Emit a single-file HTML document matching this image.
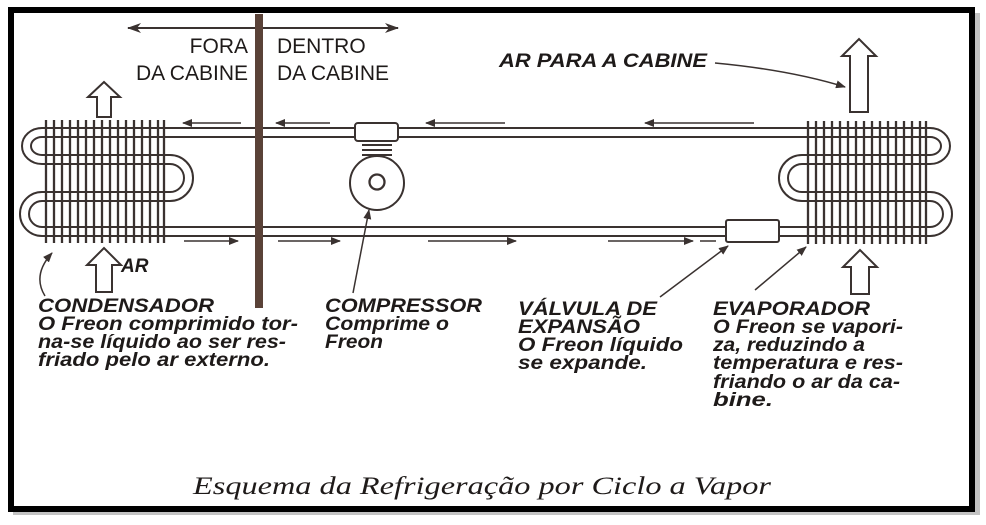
<!DOCTYPE html>
<html><head><meta charset="utf-8"><style>
html,body{margin:0;padding:0;background:#fff;}
svg{display:block}
.l{font-family:"Liberation Sans",sans-serif;font-weight:bold;font-style:italic;font-size:19px;fill:#1e1a19}
.t{font-family:"Liberation Sans",sans-serif;font-size:21px;fill:#1e1a19}
</style></head><body>
<svg width="986" height="525" viewBox="0 0 986 525" xmlns="http://www.w3.org/2000/svg">
<defs>
<marker id="ah" markerWidth="10" markerHeight="8" refX="9" refY="4" orient="auto" markerUnits="userSpaceOnUse"><path d="M0,0 L10,4 L0,8 Z" fill="#3a3230"/></marker>
<marker id="ah2" markerWidth="14" markerHeight="10" refX="13" refY="5" orient="auto" markerUnits="userSpaceOnUse"><path d="M0,0 L14,5 L0,10 L4,5 Z" fill="#3a3230"/></marker>
</defs>
<rect x="0" y="0" width="986" height="525" fill="#fff"/>
<rect x="13" y="13" width="967" height="502" fill="#888" opacity="0.5"/>
<rect x="11" y="10" width="961" height="499" fill="#fff" stroke="#000" stroke-width="6"/>
<g stroke="#3a3230" fill="none" stroke-width="2">
<line x1="130" y1="28" x2="398" y2="28" marker-end="url(#ah2)"/>
<line x1="250" y1="28" x2="128" y2="28" marker-end="url(#ah2)"/>
<line x1="160" y1="128" x2="808" y2="128"/><line x1="160" y1="137" x2="808" y2="137"/>
<line x1="160" y1="227" x2="726" y2="227"/><line x1="160" y1="236" x2="726" y2="236"/>
<line x1="779" y1="227" x2="808" y2="227"/><line x1="779" y1="236" x2="808" y2="236"/>
<path d="M160,128 H42 A20,18 0 0 0 42,164 H170 A14,14 0 0 1 170,192 H42"/>
<path d="M160,137 H42 A11,9 0 0 0 42,155 H170 A23,23 0 0 1 170,201 H42"/>
<path d="M42,192 A22,22 0 0 0 42,236 H160"/>
<path d="M42,201 A13,13 0 0 0 42,227 H160"/>
<path d="M808,128 H930 A20,18 0 0 1 930,164 H802 A14,14 0 0 0 802,192 H930"/>
<path d="M808,137 H930 A11,9 0 0 1 930,155 H802 A23,23 0 0 0 802,201 H930"/>
<path d="M930,192 A22,22 0 0 1 930,236 H808"/>
<path d="M930,201 A13,13 0 0 1 930,227 H808"/>
</g>
<g stroke="#3a3230" stroke-width="2.3">
<line x1="46" y1="120" x2="46" y2="243"/><line x1="54" y1="120" x2="54" y2="243"/><line x1="62" y1="120" x2="62" y2="243"/><line x1="70" y1="120" x2="70" y2="243"/><line x1="78" y1="120" x2="78" y2="243"/><line x1="86" y1="120" x2="86" y2="243"/><line x1="94" y1="120" x2="94" y2="243"/><line x1="102" y1="120" x2="102" y2="243"/><line x1="110" y1="120" x2="110" y2="243"/><line x1="118" y1="120" x2="118" y2="243"/><line x1="126" y1="120" x2="126" y2="243"/><line x1="134" y1="120" x2="134" y2="243"/><line x1="142" y1="120" x2="142" y2="243"/><line x1="150" y1="120" x2="150" y2="243"/><line x1="158" y1="120" x2="158" y2="243"/><line x1="164" y1="120" x2="164" y2="243"/>
<line x1="808" y1="121" x2="808" y2="244"/><line x1="816" y1="121" x2="816" y2="244"/><line x1="824" y1="121" x2="824" y2="244"/><line x1="832" y1="121" x2="832" y2="244"/><line x1="840" y1="121" x2="840" y2="244"/><line x1="848" y1="121" x2="848" y2="244"/><line x1="856" y1="121" x2="856" y2="244"/><line x1="864" y1="121" x2="864" y2="244"/><line x1="872" y1="121" x2="872" y2="244"/><line x1="880" y1="121" x2="880" y2="244"/><line x1="888" y1="121" x2="888" y2="244"/><line x1="896" y1="121" x2="896" y2="244"/><line x1="904" y1="121" x2="904" y2="244"/><line x1="912" y1="121" x2="912" y2="244"/><line x1="920" y1="121" x2="920" y2="244"/><line x1="926" y1="121" x2="926" y2="244"/>
</g>
<rect x="255" y="14" width="8" height="294" fill="#5a4238"/>
<g stroke="#3a3230" stroke-width="2" fill="#fff">
<rect x="355" y="123" width="43" height="18" rx="3"/>
<line x1="362" y1="145" x2="392" y2="145"/><line x1="362" y1="150" x2="392" y2="150"/><line x1="362" y1="155" x2="392" y2="155"/><line x1="362" y1="160" x2="392" y2="160"/>
<circle cx="377" cy="183" r="27"/>
<circle cx="377" cy="182" r="7.5" stroke-width="2.3"/>
<rect x="726" y="220" width="53" height="22" rx="2"/>
</g>
<g stroke="#3a3230" stroke-width="1.5" fill="none">
<line x1="241" y1="123" x2="183" y2="123" marker-end="url(#ah)"/>
<line x1="330" y1="123" x2="276" y2="123" marker-end="url(#ah)"/>
<line x1="505" y1="123" x2="426" y2="123" marker-end="url(#ah)"/>
<line x1="754" y1="123" x2="645" y2="123" marker-end="url(#ah)"/>
<line x1="184" y1="241" x2="238" y2="241" marker-end="url(#ah)"/>
<line x1="278" y1="241" x2="340" y2="241" marker-end="url(#ah)"/>
<line x1="428" y1="241" x2="516" y2="241" marker-end="url(#ah)"/>
<line x1="608" y1="241" x2="693" y2="241" marker-end="url(#ah)"/>
<line x1="700" y1="241" x2="716" y2="241"/>
<path d="M45,296 Q32,275 52,253" marker-end="url(#ah)"/>
<line x1="353" y1="293" x2="369" y2="210" marker-end="url(#ah)"/>
<line x1="660" y1="297" x2="728" y2="246" marker-end="url(#ah)"/>
<line x1="755" y1="290" x2="806" y2="247" marker-end="url(#ah)"/>
<path d="M715,63 Q790,70 845,87" marker-end="url(#ah)"/>
</g>
<g stroke="#3a3230" stroke-width="2" fill="#fff">
<path d="M97,117 V97 H88 L104,82 L120,97 H111 V117 Z"/>
<path d="M96,292 V265 H87 L104,248 L121,265 H112 V292 Z"/>
<path d="M850,112 V56 H842 L859,39 L876,56 H868 V112 Z"/>
<path d="M851,294 V267 H843 L860,250 L877,267 H869 V294 Z"/>
</g>
<text class="t" x="248" y="53" text-anchor="end">FORA</text>
<text class="t" x="248" y="80" text-anchor="end">DA CABINE</text>
<text class="t" x="277" y="53">DENTRO</text>
<text class="t" x="277" y="80">DA CABINE</text>
<text class="l" x="499" y="67" font-size="16" textLength="208" lengthAdjust="spacingAndGlyphs">AR PARA A CABINE</text>
<text class="l" x="121" y="272">AR</text>
<text class="l" x="38" y="312" textLength="176" lengthAdjust="spacingAndGlyphs">CONDENSADOR</text>
<text class="l" x="38" y="330" textLength="260" lengthAdjust="spacingAndGlyphs">O Freon comprimido tor-</text>
<text class="l" x="38" y="348" textLength="248" lengthAdjust="spacingAndGlyphs">na-se líquido ao ser res-</text>
<text class="l" x="38" y="366" textLength="232" lengthAdjust="spacingAndGlyphs">friado pelo ar externo.</text>
<text class="l" x="325" y="312" textLength="157" lengthAdjust="spacingAndGlyphs">COMPRESSOR</text>
<text class="l" x="325" y="330" textLength="124" lengthAdjust="spacingAndGlyphs">Comprime o</text>
<text class="l" x="325" y="348" textLength="58" lengthAdjust="spacingAndGlyphs">Freon</text>
<text class="l" x="518" y="315" textLength="139" lengthAdjust="spacingAndGlyphs">VÁLVULA DE</text>
<text class="l" x="518" y="333" textLength="122" lengthAdjust="spacingAndGlyphs">EXPANSÃO</text>
<text class="l" x="518" y="351" textLength="165" lengthAdjust="spacingAndGlyphs">O Freon líquido</text>
<text class="l" x="518" y="369" textLength="129" lengthAdjust="spacingAndGlyphs">se expande.</text>
<text class="l" x="713" y="315" textLength="157" lengthAdjust="spacingAndGlyphs">EVAPORADOR</text>
<text class="l" x="713" y="333" textLength="190" lengthAdjust="spacingAndGlyphs">O Freon se vapori-</text>
<text class="l" x="713" y="351" textLength="152" lengthAdjust="spacingAndGlyphs">za, reduzindo a</text>
<text class="l" x="713" y="369" textLength="190" lengthAdjust="spacingAndGlyphs">temperatura e res-</text>
<text class="l" x="713" y="388" textLength="187" lengthAdjust="spacingAndGlyphs">friando o ar da ca-</text>
<text class="l" x="713" y="406" textLength="60" lengthAdjust="spacingAndGlyphs">bine.</text>
<text x="193" y="494" font-family="Liberation Serif, serif" font-style="italic" font-size="25" fill="#1e1a19" textLength="578" lengthAdjust="spacingAndGlyphs">Esquema da Refrigeração por Ciclo a Vapor</text>
</svg>
</body></html>
